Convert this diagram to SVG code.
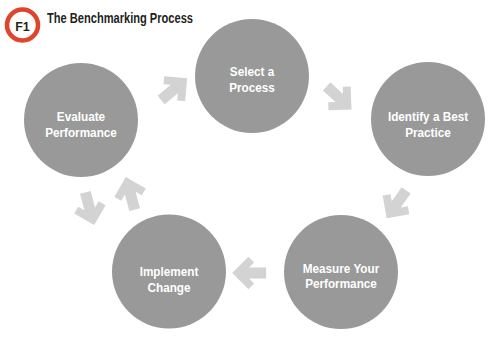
<svg xmlns="http://www.w3.org/2000/svg" xmlns:xlink="http://www.w3.org/1999/xlink" width="500" height="337" viewBox="0 0 500 337">
<style>
.bg{fill:#ffffff}
.node{fill:#999999}
.lbl{font-family:"Liberation Sans",Arial,sans-serif;font-weight:bold;font-size:13.5px;fill:#ffffff;text-anchor:middle}
.arr{fill:#d3d3d3}
.title{font-family:"Liberation Sans",Arial,sans-serif;font-weight:bold;font-size:14px;fill:#231f20}
.badge{fill:#ffffff;stroke:#e0452b;stroke-width:4.5}
.badgetxt{font-family:"Liberation Sans",Arial,sans-serif;font-weight:bold;font-size:12.5px;fill:#231f20;text-anchor:middle}
</style>
<defs>
<polygon id="arrow" points="-9,-14 14,-14 14,9 6,9 6,1.8 -6.1,13.9 -13.9,6.1 -1.8,-6 -9,-6"/>
</defs>
<rect class="bg" x="0" y="0" width="500" height="337"/>
<g id="header">
<circle class="badge" cx="22.5" cy="25" r="15.5"/>
<text class="badgetxt" x="22.5" y="30.5">F1</text>
<text class="title" x="47" y="23" textLength="146" lengthAdjust="spacingAndGlyphs">The Benchmarking Process</text>
</g>
<g id="connectors">
<use class="arr" xlink:href="#arrow" href="#arrow" transform="translate(172,91) rotate(5)"/>
<use class="arr" xlink:href="#arrow" href="#arrow" transform="translate(337,96) rotate(88)"/>
<use class="arr" xlink:href="#arrow" href="#arrow" transform="translate(398,202) rotate(170)"/>
<use class="arr" xlink:href="#arrow" href="#arrow" transform="translate(252,273) rotate(225)"/>
<use class="arr" xlink:href="#arrow" href="#arrow" transform="translate(89,206) rotate(120)"/>
<use class="arr" xlink:href="#arrow" href="#arrow" transform="translate(131,196) rotate(-60)"/>
</g>
<g id="node-select">
<circle class="node" cx="252" cy="76" r="57"/>
<g transform="translate(252,0) scale(0.87,1)">
<text class="lbl" x="0" y="76.5">Select a</text>
<text class="lbl" x="0" y="91.8">Process</text>
</g>
</g>
<g id="node-identify">
<circle class="node" cx="428" cy="119" r="57"/>
<g transform="translate(428,0) scale(0.87,1)">
<text class="lbl" x="0" y="121.5">Identify a Best</text>
<text class="lbl" x="0" y="136.8">Practice</text>
</g>
</g>
<g id="node-measure">
<circle class="node" cx="341" cy="272" r="57"/>
<g transform="translate(341,0) scale(0.87,1)">
<text class="lbl" x="0" y="272.7">Measure Your</text>
<text class="lbl" x="0" y="288">Performance</text>
</g>
</g>
<g id="node-implement">
<circle class="node" cx="169" cy="271.5" r="57"/>
<g transform="translate(169,0) scale(0.87,1)">
<text class="lbl" x="0" y="276.5">Implement</text>
<text class="lbl" x="0" y="291.8">Change</text>
</g>
</g>
<g id="node-evaluate">
<circle class="node" cx="81" cy="120" r="57"/>
<g transform="translate(81,0) scale(0.87,1)">
<text class="lbl" x="0" y="121.5">Evaluate</text>
<text class="lbl" x="0" y="136.8">Performance</text>
</g>
</g>
</svg>
